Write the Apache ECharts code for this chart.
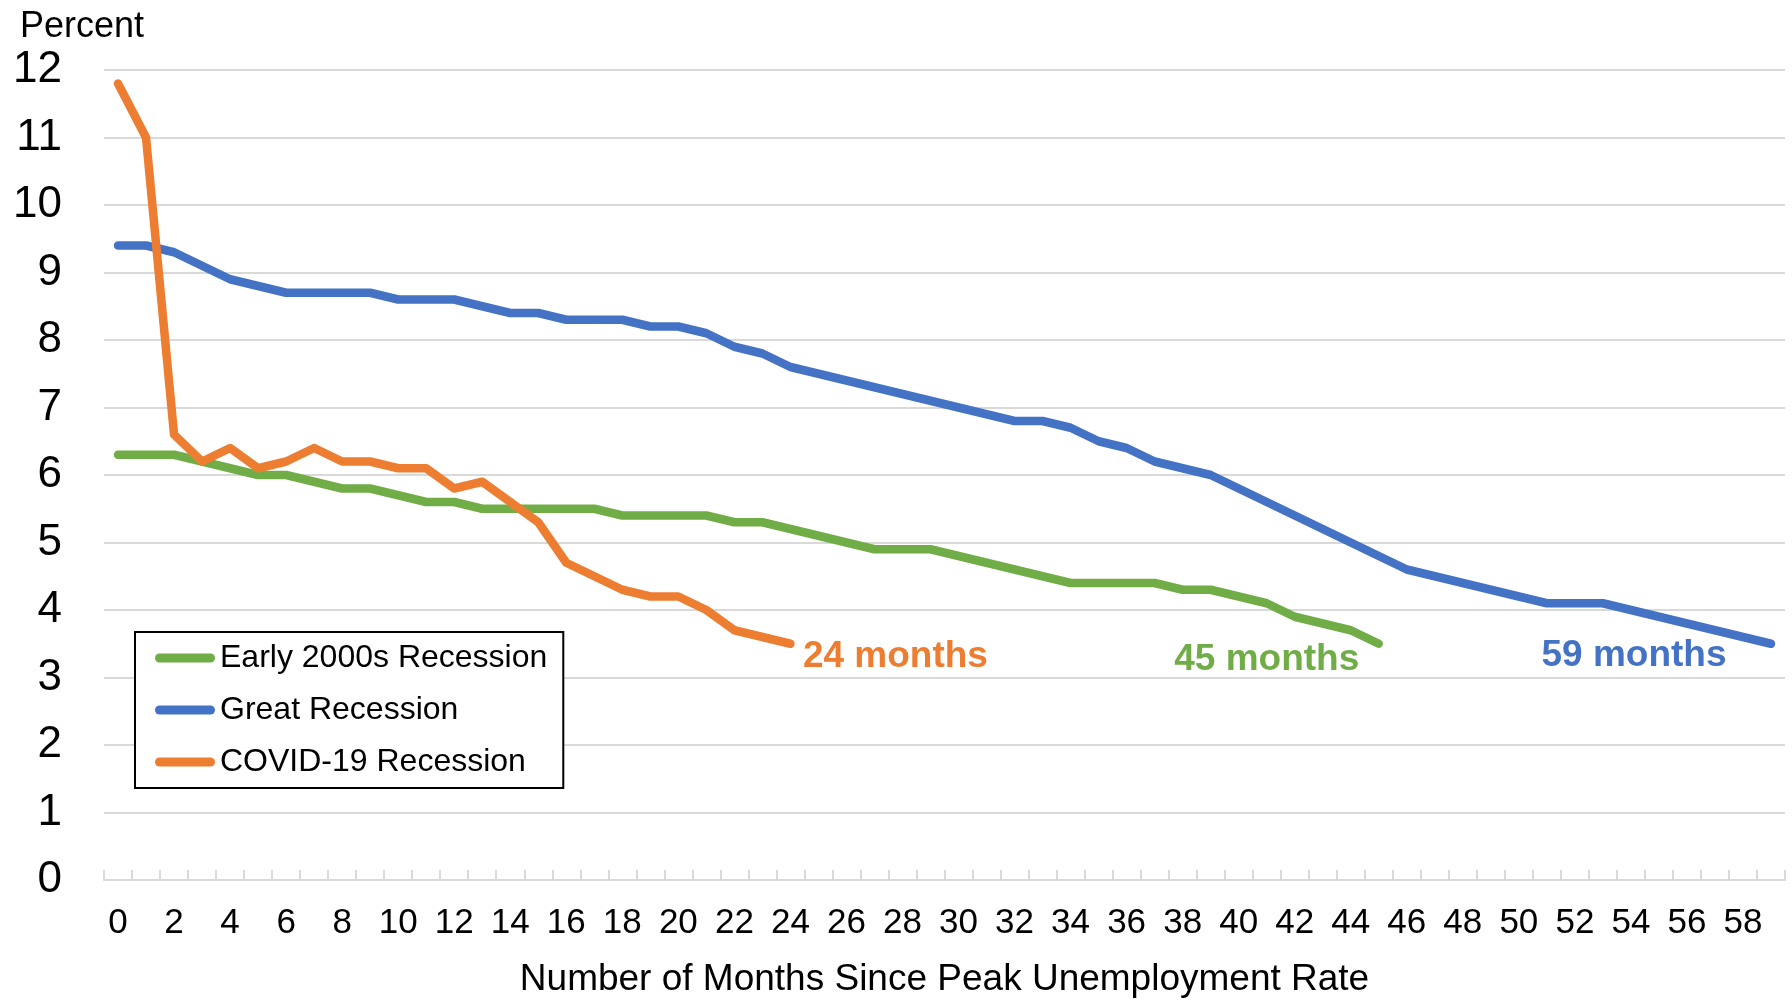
<!DOCTYPE html>
<html>
<head>
<meta charset="utf-8">
<script src="https://cdn.jsdelivr.net/npm/echarts@6/dist/echarts.min.js"></script>
<style>
html,body{margin:0;padding:0;background:#fff;}
#chart{width:1792px;height:1000px;}
</style>
</head>
<body>
<div id="chart"></div>
<script>
// Month categories (months since peak unemployment rate)
var months = ['0','1','2','3','4','5','6','7','8','9','10','11','12','13','14','15','16','17','18','19',
  '20','21','22','23','24','25','26','27','28','29','30','31','32','33','34','35','36','37','38','39',
  '40','41','42','43','44','45','46','47','48','49','50','51','52','53','54','55','56','57','58','59'];

// Early 2000s Recession (months 0-45)
var early2000s = [6.3,6.3,6.3,6.2,6.1,6.0,6.0,5.9,5.8,5.8,5.7,5.6,5.6,5.5,5.5,5.5,5.5,5.5,5.4,5.4,
  5.4,5.4,5.3,5.3,5.2,5.1,5.0,4.9,4.9,4.9,4.8,4.7,4.6,4.5,4.4,4.4,4.4,4.4,4.3,4.3,
  4.2,4.1,3.9,3.8,3.7,3.5];

// Great Recession (months 0-59)
var greatRecession = [9.4,9.4,9.3,9.1,8.9,8.8,8.7,8.7,8.7,8.7,8.6,8.6,8.6,8.5,8.4,8.4,8.3,8.3,8.3,8.2,
  8.2,8.1,7.9,7.8,7.6,7.5,7.4,7.3,7.2,7.1,7.0,6.9,6.8,6.8,6.7,6.5,6.4,6.2,6.1,6.0,
  5.8,5.6,5.4,5.2,5.0,4.8,4.6,4.5,4.4,4.3,4.2,4.1,4.1,4.1,4.0,3.9,3.8,3.7,3.6,3.5];

// COVID-19 Recession (months 0-24)
var covid19 = [11.8,11.0,6.6,6.2,6.4,6.1,6.2,6.4,6.2,6.2,6.1,6.1,5.8,5.9,5.6,5.3,4.7,4.5,4.3,4.2,
  4.2,4.0,3.7,3.6,3.5];

var seriesNames = ['Early 2000s Recession','Great Recession','COVID-19 Recession'];
var endLabels = ['45 months','59 months','24 months'];
var yTicks = {min: 0, max: 12, interval: 1};

var FONT = "'Liberation Sans', Arial, sans-serif";
var colors = ['#70ad47','#4472c4','#ed7d31'];

function withEndLabel(values, text, color, pos, dist, off){
  return values.map(function(v, i){
    if (i === values.length - 1) {
      return {value: v, label: {show: true, formatter: text, position: pos, distance: dist, offset: off,
        color: color, fontSize: 37, fontWeight: 'bold', fontFamily: FONT}};
    }
    return v;
  });
}

var chart = echarts.init(document.getElementById('chart'), null, {renderer: 'canvas'});
var capsule = 'path://M4.5,0 L55.5,0 A4.5,4.5 0 0 1 55.5,9 L4.5,9 A4.5,4.5 0 0 1 4.5,0 Z';

function lineSeries(idx, data){
  return {
    name: seriesNames[idx], type: 'line', data: data,
    showSymbol: true, showAllSymbol: true, symbol: 'circle', symbolSize: 1,
    itemStyle: {color: colors[idx]},
    lineStyle: {color: colors[idx], width: 8.5, cap: 'round', join: 'round'},
    emphasis: {disabled: true}, animation: false, silent: true
  };
}

chart.setOption({
  animation: false,
  backgroundColor: '#fff',
  textStyle: {fontFamily: FONT},
  title: {text: 'Percent', left: 15, top: 4,
    textStyle: {fontSize: 36, fontWeight: 'normal', color: '#000', fontFamily: FONT}},
  grid: {left: 104, right: 7, top: 70, bottom: 120, containLabel: false, outerBoundsMode: 'none'},
  legend: {
    orient: 'vertical', left: 135, top: 632,
    data: seriesNames,
    icon: capsule, itemWidth: 60, itemHeight: 9, itemGap: 20,
    padding: [10, 16, 10, 20],
    borderColor: '#000', borderWidth: 2, backgroundColor: '#fff',
    textStyle: {fontSize: 32, color: '#000', fontFamily: FONT, lineHeight: 32}
  },
  xAxis: {
    type: 'category', data: months, boundaryGap: true,
    name: 'Number of Months Since Peak Unemployment Rate',
    nameLocation: 'middle', nameGap: 81,
    nameTextStyle: {fontSize: 37, color: '#000', fontFamily: FONT},
    axisLine: {show: true, lineStyle: {color: '#d9d9d9', width: 2}},
    axisTick: {show: true, inside: true, length: 10, interval: 0, alignWithLabel: false,
      lineStyle: {color: '#d9d9d9', width: 2}},
    axisLabel: {interval: 1, fontSize: 35, color: '#000', margin: 26, fontFamily: FONT},
    splitLine: {show: false}
  },
  yAxis: {
    type: 'value', min: yTicks.min, max: yTicks.max, interval: yTicks.interval,
    axisLine: {show: false}, axisTick: {show: false},
    axisLabel: {fontSize: 44, color: '#000', margin: 42, fontFamily: FONT},
    splitLine: {show: true, lineStyle: {color: '#d9d9d9', width: 2}}
  },
  series: [
    lineSeries(0, withEndLabel(early2000s, endLabels[0], colors[0], 'left', 19, [0, 16])),
    lineSeries(1, withEndLabel(greatRecession, endLabels[1], colors[1], 'left', 44, [0, 12])),
    lineSeries(2, withEndLabel(covid19, endLabels[2], colors[2], 'right', 12, [0, 13]))
  ]
});
</script>
</body>
</html>
